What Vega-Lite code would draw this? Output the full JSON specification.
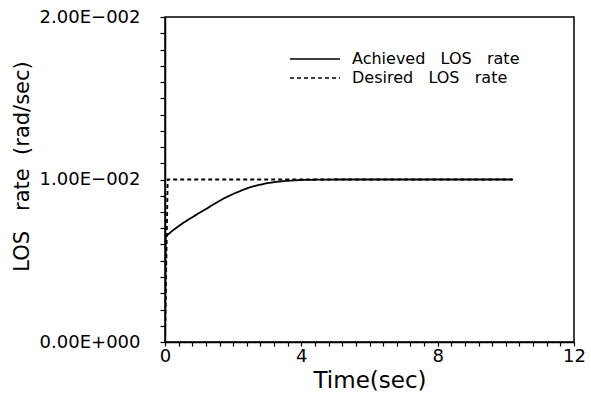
{
  "$schema": "https://vega.github.io/schema/vega-lite/v6.json",
  "autosize": {"type": "none"},
  "padding": {"left": 165, "top": 17, "right": 17, "bottom": 59},
  "width": 409,
  "height": 325,
  "background": "white",
  "config": {
    "view": {"stroke": "black", "strokeWidth": 1.5},
    "font": "DejaVu Sans",
    "axis": {
      "grid": false,
      "domainColor": "black",
      "domainWidth": 1.5,
      "tickColor": "black",
      "tickWidth": 1.2,
      "labelColor": "black",
      "titleColor": "black",
      "labelFont": "DejaVu Sans",
      "titleFont": "DejaVu Sans",
      "labelFontSize": 18,
      "titleFontWeight": "normal",
      "labelOverlap": false,
      "labelFlush": false,
      "labelBound": false
    },
    "legend": {
      "orient": "none",
      "legendX": 142,
      "legendY": 34,
      "symbolType": "M-5,0H5",
      "symbolSize": 100,
      "symbolStrokeColor": "black",
      "symbolStrokeWidth": 1.5,
      "labelFont": "DejaVu Sans",
      "labelFontSize": 16,
      "labelColor": "black",
      "labelOffset": 29,
      "labelLimit": 400,
      "rowPadding": 3
    }
  },
  "data": {
    "values": [
      {"series": "Achieved\u00a0\u00a0\u00a0LOS\u00a0\u00a0\u00a0rate", "t": 0, "v": 0},
      {"series": "Achieved\u00a0\u00a0\u00a0LOS\u00a0\u00a0\u00a0rate", "t": 0.02, "v": 0.0065},
      {"series": "Achieved\u00a0\u00a0\u00a0LOS\u00a0\u00a0\u00a0rate", "t": 0.25, "v": 0.0069},
      {"series": "Achieved\u00a0\u00a0\u00a0LOS\u00a0\u00a0\u00a0rate", "t": 0.54, "v": 0.00734},
      {"series": "Achieved\u00a0\u00a0\u00a0LOS\u00a0\u00a0\u00a0rate", "t": 0.8, "v": 0.00768},
      {"series": "Achieved\u00a0\u00a0\u00a0LOS\u00a0\u00a0\u00a0rate", "t": 1.03, "v": 0.00797},
      {"series": "Achieved\u00a0\u00a0\u00a0LOS\u00a0\u00a0\u00a0rate", "t": 1.3, "v": 0.00831},
      {"series": "Achieved\u00a0\u00a0\u00a0LOS\u00a0\u00a0\u00a0rate", "t": 1.52, "v": 0.00859},
      {"series": "Achieved\u00a0\u00a0\u00a0LOS\u00a0\u00a0\u00a0rate", "t": 1.75, "v": 0.00886},
      {"series": "Achieved\u00a0\u00a0\u00a0LOS\u00a0\u00a0\u00a0rate", "t": 2.0, "v": 0.00911},
      {"series": "Achieved\u00a0\u00a0\u00a0LOS\u00a0\u00a0\u00a0rate", "t": 2.25, "v": 0.00933},
      {"series": "Achieved\u00a0\u00a0\u00a0LOS\u00a0\u00a0\u00a0rate", "t": 2.49, "v": 0.00952},
      {"series": "Achieved\u00a0\u00a0\u00a0LOS\u00a0\u00a0\u00a0rate", "t": 2.75, "v": 0.00966},
      {"series": "Achieved\u00a0\u00a0\u00a0LOS\u00a0\u00a0\u00a0rate", "t": 2.98, "v": 0.00977},
      {"series": "Achieved\u00a0\u00a0\u00a0LOS\u00a0\u00a0\u00a0rate", "t": 3.25, "v": 0.00985},
      {"series": "Achieved\u00a0\u00a0\u00a0LOS\u00a0\u00a0\u00a0rate", "t": 3.47, "v": 0.0099},
      {"series": "Achieved\u00a0\u00a0\u00a0LOS\u00a0\u00a0\u00a0rate", "t": 3.75, "v": 0.00994},
      {"series": "Achieved\u00a0\u00a0\u00a0LOS\u00a0\u00a0\u00a0rate", "t": 4.0, "v": 0.00997},
      {"series": "Achieved\u00a0\u00a0\u00a0LOS\u00a0\u00a0\u00a0rate", "t": 4.5, "v": 0.00999},
      {"series": "Achieved\u00a0\u00a0\u00a0LOS\u00a0\u00a0\u00a0rate", "t": 5.0, "v": 0.01},
      {"series": "Achieved\u00a0\u00a0\u00a0LOS\u00a0\u00a0\u00a0rate", "t": 10.2, "v": 0.01},
      {"series": "Desired\u00a0\u00a0\u00a0LOS\u00a0\u00a0\u00a0rate", "t": 0, "v": 0},
      {"series": "Desired\u00a0\u00a0\u00a0LOS\u00a0\u00a0\u00a0rate", "t": 0.08, "v": 0.01},
      {"series": "Desired\u00a0\u00a0\u00a0LOS\u00a0\u00a0\u00a0rate", "t": 10.2, "v": 0.01}
    ]
  },
  "mark": {"type": "line", "color": "black", "clip": true, "strokeWidth": 1.8},
  "encoding": {
    "x": {
      "field": "t",
      "type": "quantitative",
      "scale": {"domain": [0, 12], "nice": false, "zero": false},
      "axis": {
        "title": "Time(sec)",
        "titleFontSize": 23,
        "titlePadding": 4,
        "values": [0, 0.4, 0.8, 1.2, 1.6, 2, 2.4, 2.8, 3.2, 3.6, 4, 4.4, 4.8, 5.2, 5.6, 6, 6.4, 6.8, 7.2, 7.6, 8, 8.4, 8.8, 9.2, 9.6, 10, 10.4, 10.8, 11.2, 11.6, 12],
        "labelExpr": "(datum.value == 0 || datum.value == 4 || datum.value == 8 || datum.value == 12) ? format(datum.value, 'd') : ''",
        "tickSize": 4,
        "labelPadding": 1
      }
    },
    "y": {
      "field": "v",
      "type": "quantitative",
      "scale": {"domain": [0, 0.02], "nice": false, "zero": false},
      "axis": {
        "title": "LOS\u00a0\u00a0\u00a0rate\u00a0\u00a0(rad/sec)",
        "titleFontSize": 21,
        "titlePadding": 7,
        "titleY": 149,
        "values": [0, 0.001, 0.002, 0.003, 0.004, 0.005, 0.006, 0.007, 0.008, 0.009, 0.01, 0.011, 0.012, 0.013, 0.014, 0.015, 0.016, 0.017, 0.018, 0.019, 0.02],
        "labelExpr": "datum.value == 0 ? '0.00E+000' : (datum.value == 0.01 ? '1.00E−002' : (datum.value == 0.02 ? '2.00E−002' : ''))",
        "tickSize": 5,
        "labelPadding": 20
      }
    },
    "strokeDash": {
      "field": "series",
      "type": "nominal",
      "scale": {"domain": ["Achieved\u00a0\u00a0\u00a0LOS\u00a0\u00a0\u00a0rate", "Desired\u00a0\u00a0\u00a0LOS\u00a0\u00a0\u00a0rate"], "range": [[1, 0], [4, 3]]},
      "legend": {"title": null}
    }
  }
}
